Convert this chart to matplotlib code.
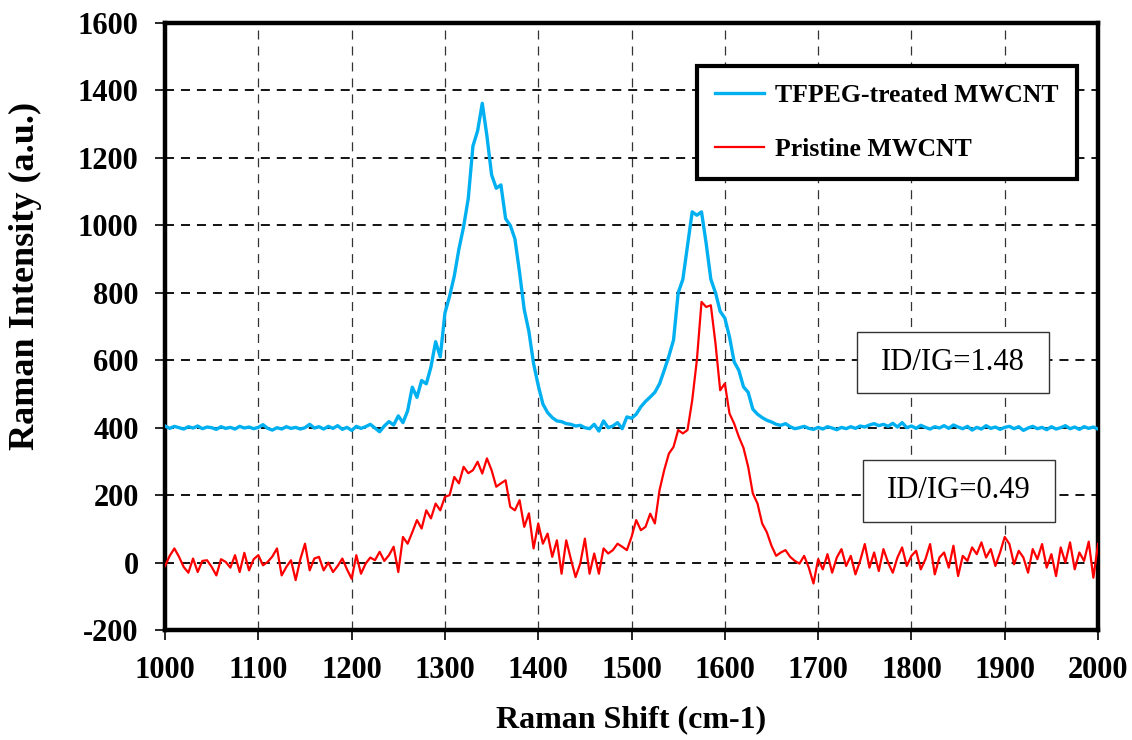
import numpy as np
import matplotlib
matplotlib.use("Agg")
import matplotlib.pyplot as plt
from matplotlib.patches import Rectangle

plt.rcParams['font.family'] = ['Liberation Serif', 'DejaVu Serif']
plt.rcParams['lines.scale_dashes'] = False
plt.rcParams['axes.unicode_minus'] = False

# Raman shift axis, 5 cm-1 steps from 1000 to 2000
shift = np.arange(1000, 2001, 5)

# TFPEG-treated MWCNT
tfpeg = [
    405, 398, 404, 400, 396, 403, 399, 405, 397, 402,   # 1000
    400, 395, 403, 398, 401, 396, 404, 399, 402, 397,   # 1050
    401, 409, 398, 393, 400, 396, 403, 398, 401, 396,   # 1100
    400, 410, 399, 403, 396, 404, 398, 406, 395, 401,   # 1150
    392, 404, 398, 403, 410, 399, 388, 405, 418, 408,   # 1200
    435, 415, 450, 520, 490, 540, 530, 580, 655, 610,   # 1250
    740, 790, 850, 930, 996, 1080, 1235, 1280, 1362, 1265,  # 1300
    1150, 1110, 1120, 1020, 1000, 960, 860, 750, 685, 590,  # 1350
    525, 470, 445, 430, 420, 418, 412, 410, 405, 407,   # 1400
    400, 397, 410, 390, 420, 400, 405, 415, 397, 432,   # 1450
    428, 440, 462, 478, 491, 505, 530, 570, 612, 660,   # 1500
    800, 840, 940, 1040, 1030, 1040, 946, 840, 800, 745,  # 1550
    725, 669, 595, 570, 521, 505, 455, 440, 430, 422,   # 1600
    417, 410, 407, 412, 403, 397, 400, 404, 398, 395,   # 1650
    401, 396, 403, 399, 394, 401, 397, 403, 398, 405,   # 1700
    402, 408, 412, 406, 410, 404, 413, 402, 415, 400,   # 1750
    405, 398, 407, 401, 396, 403, 399, 406, 398, 408,   # 1800
    402, 397, 404, 393, 401, 396, 406, 398, 402, 395,   # 1850
    401, 404, 397, 403, 392, 399, 404, 397, 401, 394,   # 1900
    403, 396, 400, 406, 397, 402, 395, 403, 398, 402,   # 1950
    396,                                                 # 2000
]

# Pristine MWCNT
pristine = [
    -10, 20, 42, 17, -13, -30, 12, -28, 5, 7,           # 1000
    -13, -38, 10, 2, -15, 22, -28, 29, -23, 10,         # 1050
    22, -8, 2, 18, 42, -38, -13, 7, -52, 10,            # 1100
    56, -23, 12, 17, -23, 0, -28, -10, 12, -20,         # 1150
    -48, 22, -33, -3, 15, 7, 32, 5, 22, 47,             # 1200
    -28, 76, 56, 90, 126, 101, 155, 131, 175, 155,      # 1250
    195, 200, 254, 235, 284, 265, 274, 299, 264, 309,   # 1300
    274, 225, 235, 244, 165, 155, 185, 106, 146, 42,    # 1350
    116, 56, 86, 17, 66, -33, 66, 10, -43, -3,          # 1400
    71, -33, 27, -33, 42, 27, 37, 56, 47, 37,           # 1450
    76, 126, 96, 106, 145, 116, 215, 274, 323, 343,     # 1500
    393, 383, 393, 481, 600, 773, 758, 763, 649, 511,   # 1550
    531, 442, 412, 373, 340, 284, 205, 175, 116, 90,    # 1600
    50, 20, 30, 37, 17, 5, -3, 20, -15, -62,            # 1650
    10, -20, 25, -30, 15, 40, -10, 20, -35, 5,          # 1700
    55, -15, 30, -25, 40, 0, -30, 15, 45, -10,          # 1750
    20, 35, -20, 10, 55, -35, 15, 30, -15, 50,          # 1800
    -40, 20, 5, 45, 25, 60, 15, 40, -10, 30,            # 1850
    76, 55, -5, 35, 15, -30, 40, 10, 55, -15,           # 1900
    25, -40, 45, 0, 60, -20, 30, 5, 62, -45,            # 1950
    55,                                                 # 2000
]

ratio_labels = ["ID/IG=1.48", "ID/IG=0.49"]

fig = plt.figure(figsize=(11.32, 7.40), dpi=100)
ax = fig.add_axes([0.1458, 0.1486, 0.8242, 0.8203])

ax.plot(shift, tfpeg, color='#00B0F0', lw=2.4, label='TFPEG-treated MWCNT', zorder=3)
ax.plot(shift, pristine, color='#FF0000', lw=1.6, label='Pristine MWCNT', zorder=3)

ax.set_xlim(1000, 2000)
ax.set_ylim(-200, 1600)
ax.set_xticks(range(1000, 2001, 100))
ax.set_yticks(range(-200, 1601, 200))

ax.grid(axis='y', color='black', lw=1.3, dashes=(6.5, 5))
ax.grid(axis='x', color='#333333', lw=0.9, dashes=(6.5, 5))
ax.set_axisbelow(True)

for s in ax.spines.values():
    s.set_linewidth(3.2)
    s.set_color('black')

ax.tick_params(axis='both', direction='out', length=7, width=1.2,
               labelsize=22, pad=12)
for lab in ax.get_xticklabels() + ax.get_yticklabels():
    lab.set_fontweight('bold')

ax.set_xlabel('Raman Shift (cm-1)', fontsize=23, fontweight='bold', labelpad=14)
ax.set_ylabel('Raman Intensity (a.u.)', fontsize=26, fontweight='bold')
ax.yaxis.set_label_coords(-0.132, 0.583)

leg = ax.legend(loc='upper left', bbox_to_anchor=(0.570, 0.929), borderaxespad=0,
                prop={'size': 18.5, 'weight': 'bold'}, fancybox=False,
                edgecolor='black', framealpha=1, borderpad=0.7,
                handlelength=1.9, handletextpad=0.45, labelspacing=1.2)
leg.get_frame().set_linewidth(3)
leg.set_zorder(5)

# ratio boxes
boxes = [(0.7417, 0.3904, 0.2058, 0.1006), (0.7479, 0.1784, 0.2058, 0.1017)]
for (bx, by, bw, bh), txt in zip(boxes, ratio_labels):
    ax.add_patch(Rectangle((bx, by), bw, bh, transform=ax.transAxes,
                           facecolor='white', edgecolor='#333333', lw=1.0, zorder=4))
    ax.text(bx + bw / 2, by + bh / 2, txt, transform=ax.transAxes,
            ha='center', va='center', fontsize=22, zorder=5)

fig.savefig('out.png', dpi=100)
